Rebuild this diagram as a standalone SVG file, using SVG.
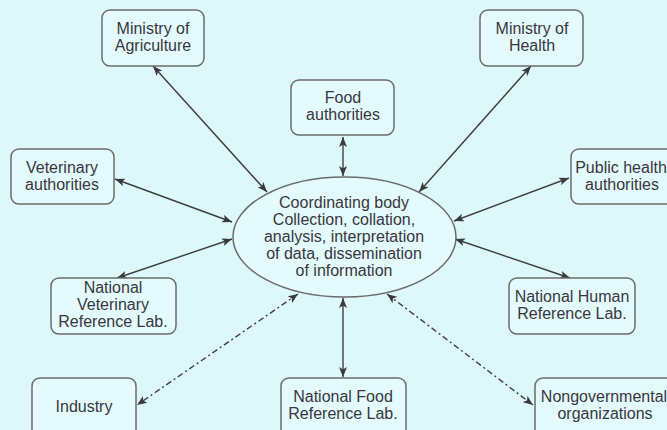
<svg xmlns="http://www.w3.org/2000/svg" width="667" height="430" viewBox="0 0 667 430">
<defs>
<marker id="arr" viewBox="0 0 10 8" refX="10" refY="4" markerWidth="10" markerHeight="8" markerUnits="userSpaceOnUse" orient="auto-start-reverse">
<path d="M0,0 L10,4 L0,8 L2.5,4 z" fill="#3a3a3a"/>
</marker>
</defs>
<style>
.bg{fill:#dcf8fb}
.box{fill:#e4fbfd;stroke:#6b6b6b;stroke-width:1.5}
.t{font-family:"Liberation Sans",Arial,sans-serif;font-size:16px;fill:#3a3640;text-anchor:middle}
.c{stroke:#3f3f3f;stroke-width:1.4;fill:none;marker-start:url(#arr);marker-end:url(#arr)}
.d{stroke-dasharray:6 3 2 3}
</style>
<rect class="bg" x="0" y="0" width="667" height="430"/>
<g id="connectors">
<line class="c" x1="153" y1="66" x2="267" y2="192"/>
<line class="c" x1="343" y1="137" x2="343" y2="176"/>
<line class="c" x1="531" y1="66" x2="419" y2="192"/>
<line class="c" x1="115" y1="179" x2="232" y2="222"/>
<line class="c" x1="569" y1="178" x2="454" y2="221"/>
<line class="c" x1="117" y1="278" x2="232" y2="239"/>
<line class="c" x1="570" y1="278" x2="455" y2="239"/>
<line class="c" x1="343" y1="298" x2="343" y2="377"/>
<line class="c d" x1="298" y1="294" x2="137" y2="405"/>
<line class="c d" x1="387" y1="294" x2="533" y2="405"/>
</g>
<g id="coordinating-body">
<ellipse cx="344.5" cy="237" rx="111.5" ry="60" fill="#e4fbfd" stroke="#6b6b6b" stroke-width="1.5"/>
<text class="t" x="344" y="208">Coordinating body</text>
<text class="t" x="344" y="225">Collection, collation,</text>
<text class="t" x="344" y="242">analysis, interpretation</text>
<text class="t" x="344" y="259">of data, dissemination</text>
<text class="t" x="344" y="276">of information</text>
</g>
<g id="ministry-agriculture">
<rect class="box" x="102" y="10" width="102" height="56" rx="8"/>
<text class="t" x="153" y="34">Ministry of</text>
<text class="t" x="153" y="51">Agriculture</text>
</g>
<g id="food-authorities">
<rect class="box" x="291" y="80" width="103" height="55" rx="8"/>
<text class="t" x="343" y="103">Food</text>
<text class="t" x="343" y="120">authorities</text>
</g>
<g id="ministry-health">
<rect class="box" x="480" y="10" width="103" height="56" rx="8"/>
<text class="t" x="532" y="34">Ministry of</text>
<text class="t" x="532" y="51">Health</text>
</g>
<g id="veterinary-authorities">
<rect class="box" x="11" y="149" width="103" height="55" rx="8"/>
<text class="t" x="62" y="173">Veterinary</text>
<text class="t" x="62" y="190">authorities</text>
</g>
<g id="public-health-authorities">
<rect class="box" x="571" y="149" width="110" height="55" rx="8"/>
<text class="t" x="621" y="173">Public health</text>
<text class="t" x="622" y="190">authorities</text>
</g>
<g id="national-veterinary-lab">
<rect class="box" x="51" y="278" width="125" height="56" rx="8"/>
<text class="t" x="113" y="293">National</text>
<text class="t" x="113" y="310">Veterinary</text>
<text class="t" x="113" y="327">Reference Lab.</text>
</g>
<g id="national-human-lab">
<rect class="box" x="509" y="278" width="126" height="56" rx="8"/>
<text class="t" x="572" y="302">National Human</text>
<text class="t" x="572" y="319">Reference Lab.</text>
</g>
<g id="industry">
<rect class="box" x="32" y="378" width="104" height="60" rx="8"/>
<text class="t" x="84" y="412">Industry</text>
</g>
<g id="national-food-lab">
<rect class="box" x="281" y="378" width="125" height="60" rx="8"/>
<text class="t" x="343" y="402">National Food</text>
<text class="t" x="343" y="419">Reference Lab.</text>
</g>
<g id="ngo">
<rect class="box" x="535" y="378" width="140" height="60" rx="8"/>
<text class="t" x="604" y="402">Nongovernmental</text>
<text class="t" x="605" y="419">organizations</text>
</g>
</svg>
